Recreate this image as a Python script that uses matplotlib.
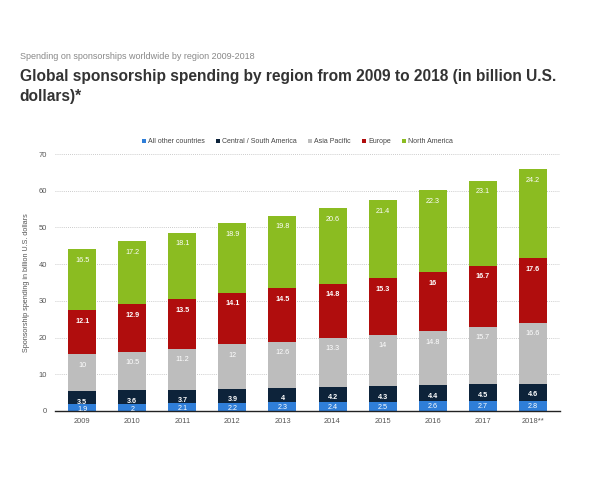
import numpy as np
import matplotlib
matplotlib.use('Agg')
import matplotlib.pyplot as plt

years = ['2009', '2010', '2011', '2012', '2013', '2014', '2015', '2016', '2017', '2018**']
other = [1.9, 2, 2.1, 2.2, 2.3, 2.4, 2.5, 2.6, 2.7, 2.8]
south_america = [3.5, 3.6, 3.7, 3.9, 4, 4.2, 4.3, 4.4, 4.5, 4.6]
asia_pacific = [10, 10.5, 11.2, 12, 12.6, 13.3, 14, 14.8, 15.7, 16.6]
europe = [12.1, 12.9, 13.5, 14.1, 14.5, 14.8, 15.3, 16, 16.7, 17.6]
north_america = [16.5, 17.2, 18.1, 18.9, 19.8, 20.6, 21.4, 22.3, 23.1, 24.2]

series = [
    ('All other countries', other, '#2f7ed8', 'normal', -4),
    ('Central / South America', south_america, '#0d233a', 'bold', -8),
    ('Asia Pacific', asia_pacific, '#bdbdbd', 'normal', -8),
    ('Europe', europe, '#b00d0d', 'bold', -8),
    ('North America', north_america, '#8bbc21', 'normal', -8),
]

plt.rcParams['font.family'] = ['Liberation Sans', 'DejaVu Sans']

fig = plt.figure(figsize=(6, 4.8), dpi=100)
ax = fig.add_axes([0.092, 0.144, 0.841, 0.535])

x = np.arange(len(years))
bottom = np.zeros(len(years))
for name, vals, col, w, off in series:
    vals = np.array(vals)
    ax.bar(x, vals, 0.56, bottom=bottom, color=col, label=name, zorder=2)
    for xi, b, v in zip(x, bottom, vals):
        ax.annotate(f'{v:g}', (xi, b + v), xytext=(0, off), textcoords='offset points',
                    ha='center', va='center', fontsize=5.2, color='white',
                    fontweight=w, zorder=3, annotation_clip=False)
    bottom += vals

ax.set_xlim(-0.54, 9.54)
ax.set_ylim(0, 70)
ax.set_yticks(range(0, 71, 10))
ax.set_xticks(x)
ax.set_xticklabels(years)
ax.tick_params(axis='both', length=0, labelsize=5.4, colors='#555555')
ax.tick_params(axis='y', pad=6)
ax.tick_params(axis='x', pad=5)
ax.yaxis.grid(True, linestyle=(0, (1, 1.5)), color='#bbbbbb', linewidth=0.6, zorder=0)
for s in ['top', 'right', 'left']:
    ax.spines[s].set_visible(False)
ax.spines['bottom'].set_color('#222222')
ax.spines['bottom'].set_linewidth(1.0)
ax.set_ylabel('Sponsorship spending in billion U.S. dollars', fontsize=5.2, color='#555555', labelpad=6)

ax.legend(loc='lower center', bbox_to_anchor=(0.48, 1.01), ncol=5, frameon=False,
          fontsize=5, handlelength=0.6, handleheight=0.6, handletextpad=0.3,
          columnspacing=1.6, labelcolor='#444444')

fig.text(0.033, 0.878, 'Spending on sponsorships worldwide by region 2009-2018',
         fontsize=6.5, color='#888888')
fig.text(0.033, 0.79, 'Global sponsorship spending by region from 2009 to 2018 (in billion U.S.\ndollars)*',
         fontsize=11.2, fontweight='bold', color='#333333', linespacing=1.4)

fig.savefig('out.png', dpi=100)
